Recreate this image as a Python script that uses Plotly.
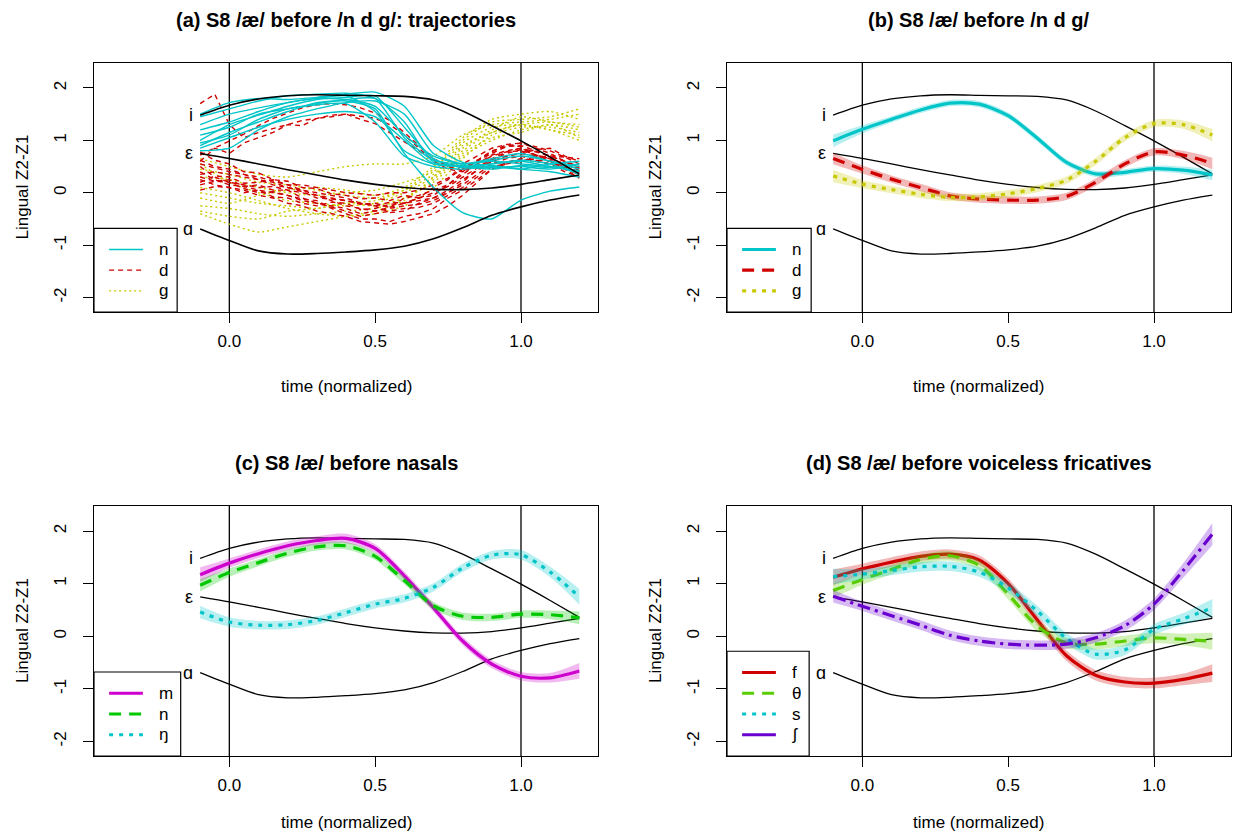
import plotly.graph_objects as go

# ---------------------------------------------------------------- data
T = [-0.1, 0.0, 0.1, 0.2, 0.3, 0.4, 0.5, 0.6, 0.7, 0.8, 0.9, 1.0, 1.1, 1.2]
T_FINE = [-0.1, -0.05, 0.0, 0.05, 0.1, 0.15, 0.2, 0.25, 0.3, 0.35, 0.4, 0.45, 0.5, 0.55,
          0.6, 0.65, 0.7, 0.75, 0.8, 0.85, 0.9, 0.95, 1.0, 1.05, 1.1, 1.15, 1.2]

# reference vowel trajectories (same in every panel)
VOWEL_LABELS = ["i", "ε", "ɑ"]
VOWEL_I = [1.48, 1.67, 1.79, 1.85, 1.87, 1.86, 1.85, 1.84, 1.77, 1.56, 1.28, 0.99, 0.68, 0.36]
VOWEL_EH = [0.75, 0.655, 0.55, 0.44, 0.34, 0.24, 0.16, 0.10, 0.065, 0.06, 0.09, 0.16, 0.25, 0.34]
VOWEL_A = [-0.69, -0.91, -1.11, -1.17, -1.16, -1.13, -1.09, -1.02, -0.88, -0.67, -0.43, -0.27, -0.14, -0.044]

# (a) individual tokens: /n/ and /g/ sampled on T, /d/ on T_FINE
N_TRAJ = [
    [1.45, 1.60, 1.75, 1.85, 1.88, 1.90, 1.80, 1.05, 0.62, 0.55, 0.60, 0.55, 0.50, 0.40],
    [1.20, 1.35, 1.55, 1.72, 1.80, 1.85, 1.55, 0.80, 0.55, 0.50, 0.55, 0.62, 0.55, 0.35],
    [0.95, 1.10, 1.40, 1.60, 1.70, 1.78, 1.80, 1.35, 0.58, 0.52, 0.48, 0.50, 0.45, 0.55],
    [0.80, 0.85, 1.20, 1.45, 1.60, 1.72, 1.75, 1.50, 0.75, 0.55, 0.62, 0.70, 0.60, 0.45],
    [1.50, 1.72, 1.80, 1.78, 1.82, 1.88, 1.92, 1.65, 0.90, 0.58, 0.52, 0.45, 0.40, 0.30],
    [1.10, 1.25, 1.50, 1.60, 1.68, 1.70, 1.35, 0.70, 0.50, 0.45, 0.50, 0.45, 0.55, 0.60],
    [1.00, 1.30, 1.48, 1.65, 1.78, 1.82, 1.85, 1.25, 0.65, 0.48, 0.55, 0.60, 0.50, 0.42],
    [0.85, 1.05, 1.25, 1.40, 1.50, 1.55, 1.45, 1.00, 0.55, 0.50, 0.45, 0.52, 0.48, 0.55],
    [0.90, 1.15, 1.35, 1.55, 1.72, 1.75, 1.60, 0.75, 0.10, -0.38, -0.50, -0.14, 0.03, 0.11],
    [1.30, 1.50, 1.62, 1.72, 1.80, 1.78, 1.65, 1.10, 0.70, 0.55, 0.65, 0.75, 0.60, 0.50],
]
D_TRAJ = [
    [1.70, 1.88, 1.30, 1.05, 1.15, 1.22, 1.30, 1.38, 1.42, 1.48, 1.50, 1.46, 1.42, 1.30,
     1.10, 0.85, 0.60, 0.45, 0.40, 0.55, 0.72, 0.80, 0.85, 0.78, 0.70, 0.60, 0.48],
    [0.72, 0.85, 0.98, 1.12, 1.28, 1.42, 1.52, 1.62, 1.68, 1.70, 1.68, 1.62, 1.52, 1.38,
     1.15, 0.90, 0.65, 0.50, 0.42, 0.50, 0.62, 0.75, 0.82, 0.72, 0.65, 0.55, 0.42],
    [0.60, 0.85, 0.75, 0.95, 1.05, 1.15, 1.30, 1.28, 1.42, 1.45, 1.50, 1.40, 1.32, 1.15,
     0.98, 0.80, 0.62, 0.55, 0.48, 0.62, 0.78, 0.92, 0.88, 0.70, 0.62, 0.50, 0.38],
    [0.78, 0.62, 0.55, 0.40, 0.38, 0.25, 0.22, 0.10, 0.08, -0.02, -0.05, -0.12, -0.10, -0.15,
     -0.05, -0.10, 0.10, 0.25, 0.55, 0.70, 0.85, 0.92, 0.95, 0.88, 0.80, 0.68, 0.55],
    [0.55, 0.48, 0.40, 0.35, 0.25, 0.20, 0.10, 0.05, -0.05, -0.10, -0.15, -0.22, -0.20, -0.28,
     -0.10, -0.05, 0.05, 0.15, 0.35, 0.55, 0.70, 0.78, 0.80, 0.72, 0.65, 0.55, 0.45],
    [0.30, 0.22, 0.25, 0.12, 0.15, 0.05, 0.05, -0.10, -0.20, -0.25, -0.30, -0.40, -0.35, -0.30,
     -0.25, -0.22, -0.15, 0.00, 0.20, 0.45, 0.60, 0.70, 0.75, 0.82, 0.85, 0.70, 0.60],
    [0.20, 0.32, 0.30, 0.18, 0.20, 0.25, 0.15, 0.05, 0.00, -0.05, -0.10, -0.20, -0.25, -0.38,
     -0.35, -0.20, -0.10, 0.00, 0.15, 0.35, 0.55, 0.65, 0.70, 0.62, 0.60, 0.45, 0.35],
    [0.40, 0.25, 0.15, 0.12, 0.05, 0.00, -0.05, -0.12, -0.15, -0.30, -0.40, -0.50, -0.50, -0.55,
     -0.45, -0.40, -0.30, -0.10, 0.05, 0.25, 0.45, 0.55, 0.65, 0.62, 0.55, 0.40, 0.30],
    [0.05, 0.12, 0.10, 0.00, 0.05, -0.08, -0.10, -0.20, -0.25, -0.18, -0.20, -0.32, -0.30, -0.22,
     -0.20, -0.10, -0.05, 0.15, 0.40, 0.62, 0.80, 0.88, 0.90, 0.80, 0.70, 0.60, 0.50],
    [0.62, 0.50, 0.45, 0.35, 0.30, 0.22, 0.15, 0.15, 0.10, 0.05, 0.00, -0.02, -0.05, 0.00,
     0.00, 0.05, 0.15, 0.28, 0.45, 0.60, 0.75, 0.88, 0.95, 0.85, 0.75, 0.60, 0.45],
    [0.15, 0.22, 0.20, 0.08, 0.00, 0.02, -0.05, -0.15, -0.20, -0.28, -0.35, -0.45, -0.40, -0.35,
     -0.30, -0.28, -0.20, -0.05, 0.10, 0.30, 0.50, 0.55, 0.60, 0.68, 0.70, 0.68, 0.65],
    [0.35, 0.40, 0.35, 0.30, 0.25, 0.15, 0.10, 0.02, -0.10, -0.12, -0.15, -0.20, -0.25, -0.18,
     -0.20, -0.10, 0.00, 0.12, 0.30, 0.48, 0.65, 0.78, 0.85, 0.72, 0.60, 0.50, 0.40],
    [0.50, 0.30, 0.20, 0.15, 0.10, 0.12, 0.05, 0.00, -0.05, -0.15, -0.25, -0.30, -0.35, -0.28,
     -0.20, -0.15, -0.10, 0.05, 0.25, 0.42, 0.60, 0.70, 0.75, 0.70, 0.65, 0.45, 0.28],
    [0.25, 0.15, 0.10, 0.05, -0.05, -0.10, -0.20, -0.25, -0.35, -0.40, -0.45, -0.55, -0.58, -0.60,
     -0.55, -0.48, -0.40, -0.25, -0.05, 0.20, 0.45, 0.58, 0.65, 0.60, 0.55, 0.48, 0.40],
]
G_TRAJ = [
    [0.65, 0.50, 0.35, 0.30, 0.40, 0.50, 0.55, 0.55, 0.70, 1.10, 1.30, 1.35, 1.40, 1.50],
    [0.30, 0.25, 0.10, 0.00, -0.05, 0.00, 0.05, 0.20, 0.40, 0.95, 1.25, 1.30, 1.20, 1.10],
    [-0.40, -0.60, -0.75, -0.65, -0.55, -0.45, -0.35, -0.15, 0.30, 0.90, 1.15, 1.30, 1.35, 1.25],
    [0.00, -0.10, -0.20, -0.25, -0.30, -0.20, -0.15, 0.05, 0.45, 1.00, 1.35, 1.40, 1.45, 1.60],
    [-0.25, -0.30, -0.40, -0.45, -0.40, -0.35, -0.30, -0.10, 0.25, 0.75, 1.05, 1.15, 1.30, 1.05],
    [0.45, 0.35, 0.20, 0.15, 0.05, -0.05, -0.10, 0.05, 0.35, 0.85, 1.20, 1.45, 1.35, 1.30],
    [0.10, 0.00, -0.15, -0.30, -0.40, -0.45, -0.40, -0.25, 0.10, 0.65, 1.10, 1.25, 1.25, 1.15],
    [-0.10, -0.20, -0.05, 0.05, 0.10, 0.05, -0.05, 0.10, 0.50, 1.05, 1.40, 1.50, 1.55, 1.40],
    [0.55, 0.20, 0.00, -0.15, -0.20, -0.25, -0.20, 0.00, 0.30, 0.80, 1.15, 1.30, 1.20, 1.00],
    [-0.35, -0.45, -0.50, -0.35, -0.30, -0.20, -0.25, -0.10, 0.20, 0.70, 1.00, 1.20, 1.30, 1.20],
]

# (b) smoothed means before /n d g/
B_N = [0.99, 1.21, 1.40, 1.58, 1.71, 1.69, 1.47, 1.04, 0.58, 0.36, 0.39, 0.46, 0.43, 0.34]
B_N_SE = [0.12, 0.08, 0.06, 0.06, 0.06, 0.06, 0.06, 0.06, 0.06, 0.06, 0.06, 0.06, 0.07, 0.10]
B_D = [0.655, 0.445, 0.26, 0.10, -0.06, -0.12, -0.14, -0.14, -0.07, 0.20, 0.55, 0.78, 0.72, 0.56]
B_D_SE = [0.11, 0.08, 0.07, 0.07, 0.07, 0.07, 0.07, 0.07, 0.07, 0.07, 0.07, 0.07, 0.08, 0.11]
B_G = [0.32, 0.165, 0.06, -0.03, -0.09, -0.08, -0.02, 0.08, 0.24, 0.60, 1.05, 1.32, 1.30, 1.10]
B_G_SE = [0.12, 0.08, 0.07, 0.07, 0.07, 0.07, 0.07, 0.07, 0.07, 0.07, 0.07, 0.07, 0.08, 0.12]

# (c) nasals
C_M = [1.17, 1.39, 1.57, 1.72, 1.82, 1.86, 1.67, 1.15, 0.54, -0.09, -0.53, -0.76, -0.79, -0.66]
C_M_SE = [0.14, 0.09, 0.08, 0.08, 0.08, 0.09, 0.08, 0.08, 0.08, 0.08, 0.08, 0.08, 0.09, 0.15]
C_N = [0.97, 1.21, 1.40, 1.58, 1.70, 1.72, 1.52, 1.06, 0.58, 0.38, 0.36, 0.42, 0.41, 0.35]
C_N_SE = [0.12, 0.08, 0.07, 0.07, 0.07, 0.07, 0.07, 0.07, 0.07, 0.07, 0.07, 0.07, 0.08, 0.12]
C_NG = [0.46, 0.27, 0.21, 0.22, 0.30, 0.45, 0.61, 0.72, 0.93, 1.30, 1.54, 1.55, 1.22, 0.75]
C_NG_SE = [0.12, 0.09, 0.08, 0.08, 0.08, 0.08, 0.08, 0.08, 0.08, 0.08, 0.08, 0.09, 0.10, 0.15]

# (d) voiceless fricatives
D_F = [1.12, 1.28, 1.41, 1.52, 1.56, 1.45, 1.00, 0.31, -0.37, -0.74, -0.87, -0.89, -0.82, -0.70]
D_F_SE = [0.15, 0.10, 0.09, 0.09, 0.09, 0.09, 0.10, 0.10, 0.10, 0.10, 0.10, 0.10, 0.11, 0.17]
D_TH = [0.87, 1.08, 1.27, 1.46, 1.53, 1.35, 0.80, 0.19, -0.13, -0.15, -0.09, -0.03, -0.06, -0.095]
D_TH_SE = [0.14, 0.10, 0.09, 0.09, 0.09, 0.09, 0.10, 0.10, 0.10, 0.10, 0.10, 0.10, 0.11, 0.16]
D_S = [1.135, 1.18, 1.25, 1.32, 1.33, 1.22, 0.92, 0.48, -0.04, -0.34, -0.26, 0.13, 0.33, 0.54]
D_S_SE = [0.15, 0.10, 0.09, 0.09, 0.09, 0.09, 0.10, 0.10, 0.10, 0.10, 0.10, 0.10, 0.11, 0.17]
D_SH = [0.76, 0.57, 0.39, 0.21, 0.02, -0.09, -0.15, -0.17, -0.15, -0.03, 0.20, 0.61, 1.25, 1.94]
D_SH_SE = [0.12, 0.09, 0.09, 0.09, 0.09, 0.09, 0.09, 0.09, 0.09, 0.09, 0.10, 0.11, 0.14, 0.21]

TITLES = [
    "(a) S8 /æ/ before /n d g/: trajectories",
    "(b) S8 /æ/ before /n d g/",
    "(c) S8 /æ/ before nasals",
    "(d) S8 /æ/ before voiceless fricatives",
]
X_TICKS = [0.0, 0.5, 1.0]
X_TICK_TEXT = ["0.0", "0.5", "1.0"]
Y_TICKS = [-2, -1, 0, 1, 2]
Y_TICK_TEXT = ["-2", "-1", "0", "1", "2"]
X_TITLE = "time (normalized)"
Y_TITLE = "Lingual Z2-Z1"

# ---------------------------------------------------------------- style
W, H = 1235, 839
FONT = "Liberation Sans, Arial, Helvetica, sans-serif"
CYAN, RED, OLIVE = "#00C5C8", "#D00000", "#C8C800"
MAGENTA, GREEN, LIME, PURPLE = "#CD00CD", "#00C800", "#5ACD00", "#6A00D0"

PANEL_BOX = [  # left, top, right, bottom in pixels
    (94, 63, 598, 312),
    (727, 63, 1231, 312),
    (94, 506, 598, 756),
    (727, 506, 1231, 756),
]
XR = [-0.464, 1.264]
YR = [-2.276, 2.476]


def rgba(hex_col, a):
    h = hex_col.lstrip("#")
    r, g, b = int(h[0:2], 16), int(h[2:4], 16), int(h[4:6], 16)
    return f"rgba({r},{g},{b},{a})"


fig = go.Figure()


def ax(k):
    return ("x" if k == 1 else f"x{k}"), ("y" if k == 1 else f"y{k}")


def add_vowels(k, width):
    xa, ya = ax(k)
    for lab, vals in zip(VOWEL_LABELS, [VOWEL_I, VOWEL_EH, VOWEL_A]):
        fig.add_trace(go.Scatter(x=T, y=vals, mode="lines", xaxis=xa, yaxis=ya,
                                 line=dict(color="black", width=width, shape="spline", smoothing=0.8),
                                 hoverinfo="skip", showlegend=False))
        fig.add_annotation(x=T[0] - 0.018, y=vals[0], xref=xa, yref=ya, text=lab,
                           showarrow=False, xanchor="right", yanchor="middle",
                           font=dict(family=FONT, size=18, color="black"))


def add_smooth(k, mean, se, color, dash):
    xa, ya = ax(k)
    lo = [m - s for m, s in zip(mean, se)]
    hi = [m + s for m, s in zip(mean, se)]
    fig.add_trace(go.Scatter(x=T, y=lo, mode="lines", xaxis=xa, yaxis=ya,
                             line=dict(width=0, shape="spline", smoothing=0.8),
                             hoverinfo="skip", showlegend=False))
    fig.add_trace(go.Scatter(x=T, y=hi, mode="lines", xaxis=xa, yaxis=ya, fill="tonexty",
                             fillcolor=rgba(color, 0.28),
                             line=dict(width=0, shape="spline", smoothing=0.8),
                             hoverinfo="skip", showlegend=False))
    fig.add_trace(go.Scatter(x=T, y=mean, mode="lines", xaxis=xa, yaxis=ya,
                             line=dict(color=color, width=3.2, dash=dash, shape="spline", smoothing=0.8),
                             hoverinfo="skip", showlegend=False))


def add_legend(k, labels, colors, dashes, width, box_w):
    xa, ya = ax(k)
    xr, yr = xa + " domain", ya + " domain"
    n = len(labels)
    top = 0.085 + 0.083 * (n - 1) + 0.085
    fig.add_shape(type="rect", xref=xr, yref=yr, x0=0, x1=box_w, y0=0, y1=top,
                  line=dict(color="black", width=1.2), fillcolor="white", layer="above")
    for i, (lab, col, dsh) in enumerate(zip(labels, colors, dashes)):
        yy = top - 0.085 - 0.083 * i
        fig.add_shape(type="line", xref=xr, yref=yr, x0=0.03, x1=0.097, y0=yy, y1=yy,
                      line=dict(color=col, width=width, dash=dsh), layer="above")
        fig.add_annotation(xref=xr, yref=yr, x=0.125, y=yy, text=lab, showarrow=False,
                           xanchor="left", yanchor="middle",
                           font=dict(family=FONT, size=17, color="black"))


# ---------------------------------------------------------------- panel (a)
for tr in G_TRAJ:
    fig.add_trace(go.Scatter(x=T, y=tr, mode="lines",
                             line=dict(color=OLIVE, width=1.4, dash="2px,3px", shape="spline", smoothing=0.6),
                             hoverinfo="skip", showlegend=False))
for tr in D_TRAJ:
    fig.add_trace(go.Scatter(x=T_FINE, y=tr, mode="lines", line=dict(color=RED, width=1.4, dash="5px,4px"),
                             hoverinfo="skip", showlegend=False))
for tr in N_TRAJ:
    fig.add_trace(go.Scatter(x=T, y=tr, mode="lines",
                             line=dict(color=CYAN, width=1.4, shape="spline", smoothing=0.6),
                             hoverinfo="skip", showlegend=False))
add_vowels(1, 1.6)
add_legend(1, ["n", "d", "g"], [CYAN, RED, OLIVE], ["solid", "5px,4px", "2px,3px"], 1.4, 0.165)

# ---------------------------------------------------------------- panel (b)
add_vowels(2, 1.3)
add_smooth(2, B_N, B_N_SE, CYAN, "solid")
add_smooth(2, B_D, B_D_SE, RED, "12px,8px")
add_smooth(2, B_G, B_G_SE, OLIVE, "4px,6px")
add_legend(2, ["n", "d", "g"], [CYAN, RED, OLIVE], ["solid", "12px,8px", "4px,6px"], 3.2, 0.167)

# ---------------------------------------------------------------- panel (c)
add_vowels(3, 1.3)
add_smooth(3, C_M, C_M_SE, MAGENTA, "solid")
add_smooth(3, C_N, C_N_SE, GREEN, "12px,8px")
add_smooth(3, C_NG, C_NG_SE, CYAN, "4px,6px")
add_legend(3, ["m", "n", "ŋ"], [MAGENTA, GREEN, CYAN], ["solid", "12px,8px", "4px,6px"], 3.2, 0.172)

# ---------------------------------------------------------------- panel (d)
add_vowels(4, 1.3)
add_smooth(4, D_F, D_F_SE, RED, "solid")
add_smooth(4, D_TH, D_TH_SE, LIME, "12px,8px")
add_smooth(4, D_S, D_S_SE, CYAN, "4px,6px")
add_smooth(4, D_SH, D_SH_SE, PURPLE, "13px,5px,3px,5px")
add_legend(4, ["f", "θ", "s", "ʃ"], [RED, LIME, CYAN, PURPLE],
           ["solid", "12px,8px", "4px,6px", "solid"], 3.2, 0.163)

# ---------------------------------------------------------------- axes, frames, labels
layout = dict(width=W, height=H, margin=dict(l=0, r=0, t=0, b=0),
              paper_bgcolor="white", plot_bgcolor="white", showlegend=False)
for k, (l, t, r, b) in enumerate(PANEL_BOX, start=1):
    xa, ya = ax(k)
    xkey = "xaxis" if k == 1 else f"xaxis{k}"
    ykey = "yaxis" if k == 1 else f"yaxis{k}"
    layout[xkey] = dict(domain=[l / W, r / W], range=XR, anchor=ya, showgrid=False, zeroline=False,
                        showline=True, mirror=True, linecolor="black", linewidth=1.2,
                        ticks="outside", ticklen=10, tickwidth=1.2, tickcolor="black",
                        tickvals=X_TICKS, ticktext=X_TICK_TEXT, ticklabelstandoff=3,
                        tickfont=dict(family=FONT, size=17, color="black"))
    layout[ykey] = dict(domain=[1 - b / H, 1 - t / H], range=YR, anchor=xa, showgrid=False, zeroline=False,
                        showline=True, mirror=True, linecolor="black", linewidth=1.2,
                        ticks="outside", ticklen=10, tickwidth=1.2, tickcolor="black",
                        tickvals=Y_TICKS, ticktext=Y_TICK_TEXT, tickangle=-90, ticklabelstandoff=10,
                        tickfont=dict(family=FONT, size=17, color="black"))
fig.update_layout(**layout)

title_y = [20, 20, 463, 463]
xtitle_y = [386, 386, 822, 822]
for k, (l, t, r, b) in enumerate(PANEL_BOX, start=1):
    xa, ya = ax(k)
    # onset / offset markers
    for xv in (0.0, 1.0):
        fig.add_shape(type="line", xref=xa, yref=ya + " domain", x0=xv, x1=xv, y0=0, y1=1,
                      line=dict(color="black", width=1.3), layer="below")
    cx = (l + r) / 2 / W
    fig.add_annotation(xref="paper", yref="paper", x=cx, y=1 - title_y[k - 1] / H, text=f"<b>{TITLES[k - 1]}</b>",
                       showarrow=False, xanchor="center", yanchor="middle",
                       font=dict(family=FONT, size=20, color="black"))
    fig.add_annotation(xref="paper", yref="paper", x=cx, y=1 - xtitle_y[k - 1] / H, text=X_TITLE,
                       showarrow=False, xanchor="center", yanchor="middle",
                       font=dict(family=FONT, size=17, color="black"))
    fig.add_annotation(xref="paper", yref="paper", x=(l - 72) / W, y=1 - (t + b) / 2 / H, text=Y_TITLE,
                       showarrow=False, xanchor="center", yanchor="middle", textangle=-90,
                       font=dict(family=FONT, size=17, color="black"))

fig.write_html("out.html")
